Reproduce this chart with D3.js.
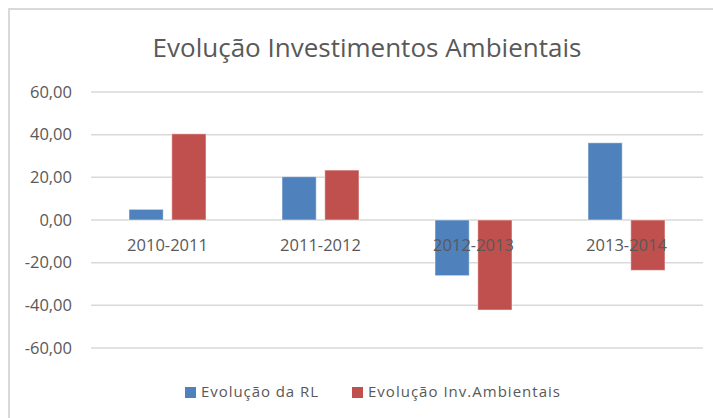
<!DOCTYPE html>
<html>
<head>
<meta charset="utf-8">
<script src="https://cdn.jsdelivr.net/npm/d3@7"></script>
<style>
  body { margin: 0; background: #fff; }
  text { font-family: "Open Sans", sans-serif; fill: #595959; }
</style>
</head>
<body>
<div id="chart"></div>
<script>
// values
const periods = ["2010-2011", "2011-2012", "2012-2013", "2013-2014"];
const seriesNames = ["Evolução da RL", "Evolução Inv.Ambientais"];
const evolucaoRL = [5.0, 20.3, -26.1, 36.2];
const evolucaoInv = [40.4, 23.4, -42.2, -23.6];
const yTicks = [-60, -40, -20, 0, 20, 40, 60];

const W = 713, H = 418;
const margin = { top: 92, right: 10, bottom: 70, left: 91 };
const width = 703 - margin.left;
const height = 348 - margin.top;

const svg = d3.select("#chart").append("svg")
  .attr("width", W)
  .attr("height", H);

// chart area border
svg.append("rect")
  .attr("x", 9).attr("y", 9)
  .attr("width", W).attr("height", H)
  .attr("fill", "none")
  .attr("stroke", "#d9d9d9")
  .attr("stroke-width", 2);

svg.append("text")
  .attr("x", 367).attr("y", 57)
  .attr("text-anchor", "middle")
  .style("font-size", "26px")
  .text("Evolução Investimentos Ambientais");

const g = svg.append("g")
  .attr("transform", "translate(" + margin.left + "," + margin.top + ")");

const x = d3.scaleBand().domain(periods).range([0, width]);
const x1 = d3.scaleBand().domain(seriesNames).range([38, x.bandwidth() - 38]).paddingInner(0.2);
const y = d3.scaleLinear().domain([-60, 60]).range([height, 0]);
const color = d3.scaleOrdinal().domain(seriesNames).range(["#4f81bd", "#c0504d"]);

// gridlines
g.selectAll(".grid")
  .data(yTicks)
  .enter()
  .append("line")
  .attr("x1", 0).attr("x2", width)
  .attr("y1", d => y(d)).attr("y2", d => y(d))
  .attr("stroke", "#d9d9d9")
  .attr("stroke-width", 1.5);

// y labels
const fmt = d => d3.format(".2f")(d).replace(".", ",").replace("−", "-");
g.selectAll(".ylab")
  .data(yTicks)
  .enter()
  .append("text")
  .attr("x", -19)
  .attr("y", d => y(d))
  .attr("dy", "0.35em")
  .attr("text-anchor", "end")
  .style("font-size", "16.5px")
  .text(fmt);

// bars
const rows = periods.map((p, i) => ({ period: p, values: [evolucaoRL[i], evolucaoInv[i]] }));
const groups = g.selectAll(".grp")
  .data(rows)
  .enter()
  .append("g")
  .attr("transform", d => "translate(" + x(d.period) + ",0)");

groups.selectAll("rect")
  .data(d => d.values.map((v, k) => ({ name: seriesNames[k], value: v })))
  .enter()
  .append("rect")
  .attr("x", d => x1(d.name))
  .attr("width", x1.bandwidth())
  .attr("y", d => y(Math.max(0, d.value)))
  .attr("height", d => Math.abs(y(d.value) - y(0)))
  .attr("fill", d => color(d.name))
  .attr("stroke", "#ffffff")
  .attr("stroke-opacity", 0.5)
  .attr("stroke-width", 1);

// category labels sit just under the zero line
g.selectAll(".xlab")
  .data(periods)
  .enter()
  .append("text")
  .attr("x", d => x(d) + x.bandwidth() / 2)
  .attr("y", y(0) + 25)
  .attr("dy", "0.35em")
  .attr("text-anchor", "middle")
  .style("font-size", "16.5px")
  .text(d => d);

// legend
const legendX = [185, 352];
const legendLen = [117, 192];
const legend = svg.selectAll(".leg")
  .data(seriesNames)
  .enter()
  .append("g")
  .attr("transform", (d, i) => "translate(" + legendX[i] + ",392)");

legend.append("rect")
  .attr("x", 0).attr("y", -5)
  .attr("width", 11).attr("height", 11)
  .attr("fill", d => color(d));

legend.append("text")
  .attr("x", 16)
  .attr("dy", "0.35em")
  .attr("textLength", (d, i) => legendLen[i])
  .attr("lengthAdjust", "spacing")
  .style("font-size", "15px")
  .text(d => d);
</script>
</body>
</html>
